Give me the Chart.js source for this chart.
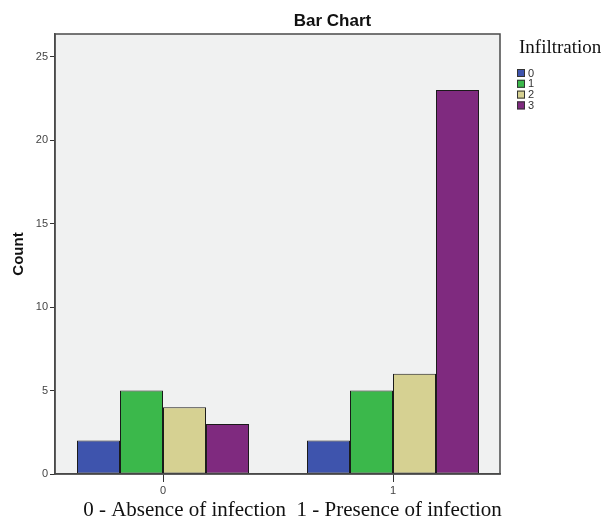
<!DOCTYPE html>
<html><head><meta charset="utf-8">
<script src="https://cdn.jsdelivr.net/npm/chart.js@4"></script>
<style>html,body{margin:0;padding:0;background:#fff}#wrap{width:603px;height:525px}</style>
</head><body><div id="wrap"><canvas id="c" width="603" height="525"></canvas></div>
<script>
const categories = [0, 1];
const categoryLabels = ['0', '1'];
const seriesNames = ['0', '1', '2', '3'];
const infiltration0 = [2, 2];
const infiltration1 = [5, 5];
const infiltration2 = [4, 6];
const infiltration3 = [3, 23];
const yTickValues = [0, 5, 10, 15, 20, 25];
const chartTitle = 'Bar Chart';
const yTitle = 'Count';
const xTitle = '0 - Absence of infection  1 - Presence of infection';
const legendTitle = 'Infiltration';
const colors = ['#3e54ad', '#3bb84b', '#d6d192', '#7f2a7f'];

const series = [infiltration0, infiltration1, infiltration2, infiltration3];
const datasets = series.map((vals, k) => ({
  label: seriesNames[k],
  data: categories.map((c, i) => ({ x: c, y: vals[i] })),
  backgroundColor: colors[k],
  borderColor: '#1a1a1a',
  borderWidth: 1,
  borderSkipped: false
}));

const frame = {
  id: 'frame',
  beforeDraw(chart) {
    const { ctx, chartArea: a } = chart;
    ctx.save();
    ctx.fillStyle = '#f0f1f1';
    ctx.fillRect(a.left, a.top, a.right - a.left, a.bottom - a.top);
    ctx.restore();
  },
  afterDraw(chart) {
    const { ctx, chartArea: a } = chart;
    ctx.save();
    ctx.strokeStyle = '#4a4a4a';
    ctx.lineWidth = 1.5;
    ctx.strokeRect(a.left, a.top, a.right - a.left, a.bottom - a.top);
    // title
    ctx.fillStyle = '#111';
    ctx.font = 'bold 17px "Liberation Sans", Arial, sans-serif';
    ctx.textAlign = 'center';
    ctx.textBaseline = 'alphabetic';
    ctx.fillText(chartTitle, 332.5, 25.5);
    // x title
    ctx.font = '21px "Liberation Serif", "Times New Roman", serif';
    ctx.fillText(xTitle, 292.5, 516);
    // legend
    ctx.textAlign = 'left';
    ctx.font = '19px "Liberation Serif", "Times New Roman", serif';
    ctx.fillText(legendTitle, 519, 53);
    ctx.font = '11px "Liberation Sans", Arial, sans-serif';
    ctx.textBaseline = 'middle';
    chart.data.datasets.forEach((ds, i) => {
      const y = 69 + i * 10.8;
      ctx.fillStyle = ds.backgroundColor;
      ctx.fillRect(517, y, 8, 8);
      ctx.strokeStyle = '#333';
      ctx.lineWidth = 1;
      ctx.strokeRect(517.5, y + 0.5, 7, 7);
      ctx.fillStyle = '#333';
      ctx.fillText(ds.label, 528, y + 4.5);
    });
    ctx.restore();
  }
};

new Chart(document.getElementById('c'), {
  type: 'bar',
  data: { datasets },
  plugins: [frame],
  options: {
    responsive: false,
    animation: false,
    devicePixelRatio: 1,
    layout: { padding: { left: 0, top: 34, right: 103, bottom: 0 } },
    plugins: { legend: { display: false }, title: { display: false }, tooltip: { enabled: false } },
    datasets: { bar: { barPercentage: 1, categoryPercentage: 0.748 } },
    scales: {
      x: {
        type: 'linear',
        min: -0.4696,
        max: 1.4652,
        offset: false,
        afterBuildTicks: s => { s.ticks = categories.map(v => ({ value: v })); },
        afterFit: s => { s.height = 51; },
        grid: { display: true, offset: false, drawOnChartArea: false, drawTicks: true, tickLength: 8, color: '#333', lineWidth: 1 },
        border: { display: true, color: '#4a4a4a', width: 1.5 },
        ticks: {
          callback: v => { const i = categories.indexOf(v); return i >= 0 ? categoryLabels[i] : ''; },
          font: { family: '"Liberation Sans", Arial, sans-serif', size: 11 },
          color: '#444', padding: 2, maxRotation: 0, autoSkip: false
        }
      },
      y: {
        min: 0,
        max: 26.36,
        afterBuildTicks: s => { s.ticks = yTickValues.map(v => ({ value: v })); },
        afterFit: s => { s.width = 55; },
        grid: { display: true, drawOnChartArea: false, drawTicks: true, tickLength: 5, color: '#333', lineWidth: 1 },
        border: { display: true, color: '#4a4a4a', width: 1.5 },
        ticks: {
          font: { family: '"Liberation Sans", Arial, sans-serif', size: 11 },
          color: '#444', padding: 2
        },
        title: {
          display: true, text: yTitle, color: '#111',
          font: { family: '"Liberation Sans", Arial, sans-serif', size: 15, weight: 'bold' },
          padding: { top: 10, bottom: 0 }
        }
      }
    }
  }
});
</script>
</body></html>
